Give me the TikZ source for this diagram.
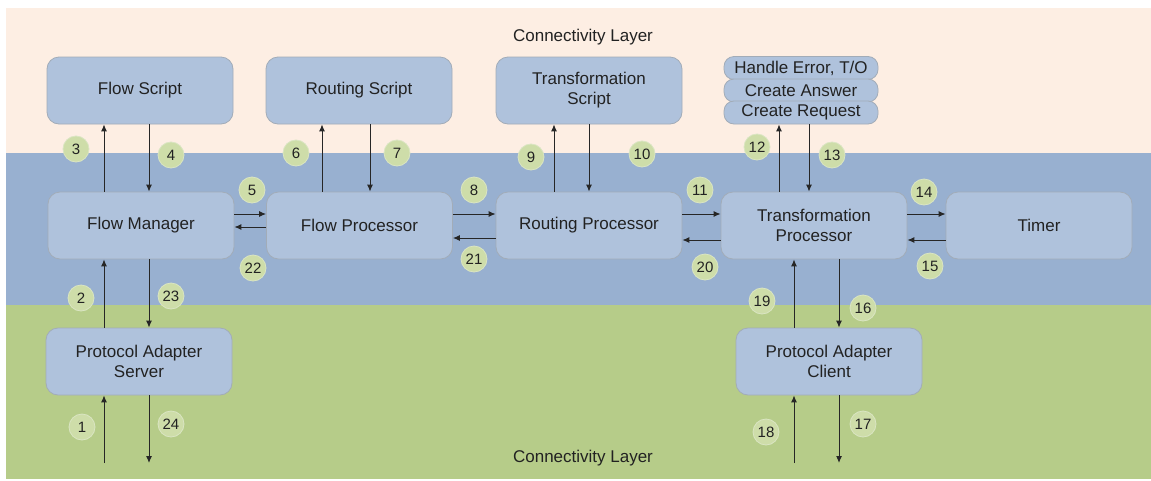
\documentclass[tikz,border=0pt]{standalone}
\usepackage{fontspec}
\setmainfont{Liberation Sans}
\usetikzlibrary{arrows.meta}
\definecolor{pinkbg}{HTML}{FDEEE3}
\definecolor{bluebg}{HTML}{98B0D0}
\definecolor{greenbg}{HTML}{B6CC89}
\definecolor{boxfill}{HTML}{AFC2DC}
\definecolor{boxline}{HTML}{A2ACB8}
\definecolor{numfill}{HTML}{CEDDA9}
\definecolor{numline}{HTML}{DAE5C2}
\definecolor{txt}{HTML}{222222}
\definecolor{arrcol}{HTML}{262626}
\begin{document}
\begin{tikzpicture}[x=1pt,y=-1pt,
  box/.style={draw=boxline, line width=0.8pt, fill=boxfill, rounded corners=12pt,
    minimum width=186pt, minimum height=67pt, align=center, inner sep=0pt,
    text=txt, font=\fontsize{17}{20}\selectfont},
  pill/.style={draw=boxline, line width=0.8pt, fill=boxfill, rounded corners=10pt,
    minimum width=154pt, minimum height=23pt, inner sep=0pt,
    text=txt, font=\fontsize{17}{20}\selectfont},
  num/.style={circle, draw=numline, line width=0.8pt, fill=numfill, minimum size=26pt,
    inner sep=0pt, text=txt, font=\fontsize{15}{15}\selectfont},
  layer/.style={text=txt, font=\fontsize{17}{20}\selectfont},
  arr/.style={draw=arrcol, line width=1pt, -{Latex[length=7pt,width=6pt]}}
]
\useasboundingbox (0,0) rectangle (1151,480);
\fill[white] (0,0) rectangle (1151,480);
\fill[pinkbg] (6,8) rectangle (1151,153);
\fill[bluebg] (6,153) rectangle (1151,305);
\fill[greenbg] (6,305) rectangle (1151,479);

\node[layer] (ltop) at (583,37) {Connectivity Layer};
\node[layer] (lbot) at (583,458) {Connectivity Layer};

% boxes
\node[box] (fs) at (140,90.5) {Flow Script};
\node[box] (rs) at (359,90.5) {Routing Script};
\node[box] (ts) at (589,90.5) {Transformation\\Script};
\node[pill] (he) at (801,68) {Handle Error, T/O};
\node[pill] (ca) at (801,90.5) {Create Answer};
\node[pill] (cr) at (801,112.5) {Create Request};

\node[box] (fm) at (141,225.5) {Flow Manager};
\node[box] (fp) at (359.5,225.5) {Flow Processor};
\node[box] (rp) at (589,225.5) {Routing Processor};
\node[box] (tp) at (814,225.5) {Transformation\\Processor};
\node[box] (tm) at (1039,225.5) {Timer};

\node[box] (pas) at (139,361.5) {Protocol Adapter\\Server};
\node[box] (pac) at (829,361.5) {Protocol Adapter\\Client};

% column and row coordinates
\coordinate (c1) at (104,0);
\coordinate (c2) at (149,0);
\coordinate (c3) at (322,0);
\coordinate (c4) at (370,0);
\coordinate (c5) at (554,0);
\coordinate (c6) at (589,0);
\coordinate (c7) at (779,0);
\coordinate (c8) at (809,0);
\coordinate (c9) at (794,0);
\coordinate (c10) at (839,0);
\coordinate (r1) at (0,214);
\coordinate (r2) at (0,227);
\coordinate (r3) at (0,238);
\coordinate (r4) at (0,240);
\coordinate (bot) at (0,463);

% vertical arrows
\draw[arr] (fm.north -| c1) -- (fs.south -| c1);
\draw[arr] (fs.south -| c2) -- (fm.north -| c2);
\draw[arr] (fp.north -| c3) -- (rs.south -| c3);
\draw[arr] (rs.south -| c4) -- (fp.north -| c4);
\draw[arr] (rp.north -| c5) -- (ts.south -| c5);
\draw[arr] (ts.south -| c6) -- (rp.north -| c6);
\draw[arr] (tp.north -| c7) -- (cr.south -| c7);
\draw[arr] (cr.south -| c8) -- (tp.north -| c8);
\draw[arr] (pac.north -| c9) -- (tp.south -| c9);
\draw[arr] (tp.south -| c10) -- (pac.north -| c10);
\draw[arr] (bot -| c9) -- (pac.south -| c9);
\draw[arr] (pac.south -| c10) -- (bot -| c10);
\draw[arr] (pas.north -| c1) -- (fm.south -| c1);
\draw[arr] (fm.south -| c2) -- (pas.north -| c2);
\draw[arr] (bot -| c1) -- (pas.south -| c1);
\draw[arr] (pas.south -| c2) -- (bot -| c2);

% horizontal arrows
\draw[arr] (fm.east |- r1) -- (fp.west |- r1);
\draw[arr] (fp.west |- r2) -- (fm.east |- r2);
\draw[arr] (fp.east |- r1) -- (rp.west |- r1);
\draw[arr] (rp.west |- r3) -- (fp.east |- r3);
\draw[arr] (rp.east |- r1) -- (tp.west |- r1);
\draw[arr] (tp.west |- r4) -- (rp.east |- r4);
\draw[arr] (tp.east |- r1) -- (tm.west |- r1);
\draw[arr] (tm.west |- r4) -- (tp.east |- r4);

% numbers
\node[num] (n1) at (82,427) {1};
\node[num] (n2) at (81,298) {2};
\node[num] (n3) at (76,149) {3};
\node[num] (n4) at (171,155) {4};
\node[num] (n5) at (252,190) {5};
\node[num] (n6) at (296,153) {6};
\node[num] (n7) at (397,153) {7};
\node[num] (n8) at (474,190) {8};
\node[num] (n9) at (531,157) {9};
\node[num] (n10) at (642,154) {10};
\node[num] (n11) at (700,190) {11};
\node[num] (n12) at (757,147) {12};
\node[num] (n13) at (832,155) {13};
\node[num] (n14) at (924,192) {14};
\node[num] (n15) at (930,266) {15};
\node[num] (n16) at (863,308) {16};
\node[num] (n17) at (863,424) {17};
\node[num] (n18) at (766,432) {18};
\node[num] (n19) at (762,301) {19};
\node[num] (n20) at (705,267) {20};
\node[num] (n21) at (474,259) {21};
\node[num] (n22) at (253,268) {22};
\node[num] (n23) at (171,296) {23};
\node[num] (n24) at (171,424) {24};
\end{tikzpicture}
\end{document}
